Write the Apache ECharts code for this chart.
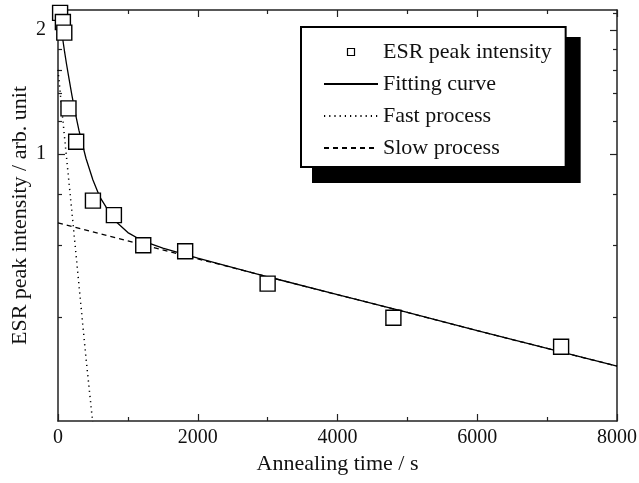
<!DOCTYPE html>
<html>
<head>
<meta charset="utf-8">
<script src="https://cdn.jsdelivr.net/npm/echarts@6/dist/echarts.min.js"></script>
<style>html,body{margin:0;padding:0;background:#fff;}#chart{width:639px;height:483px;}</style>
</head>
<body>
<div id="chart"></div>
<script>
// Measured ESR peak intensity
const esrTime = [30, 70, 90, 150, 260, 500, 800, 1220, 1820, 3000, 4800, 7200];
const esrIntensity = [2.20, 2.09, 1.97, 1.29, 1.07, 0.77, 0.71, 0.60, 0.58, 0.484, 0.400, 0.340];
// Fitting curve
const fitTime = [0, 30, 60, 90, 120, 150, 200, 250, 300, 400, 500, 600, 800, 1000, 1200, 1500, 2000, 3000, 4000, 5000, 6000, 7000, 8000];
const fitValue = [2.28, 2.10, 1.94, 1.79, 1.66, 1.55, 1.385, 1.25, 1.14, 0.976, 0.864, 0.785, 0.692, 0.644, 0.616, 0.590, 0.558, 0.503, 0.455, 0.412, 0.372, 0.337, 0.305];
// Fast process
const fastTime = [0, 100, 200, 300, 400, 500];
const fastValue = [1.60, 1.07, 0.72, 0.48, 0.32, 0.22];
// Slow process
const slowTime = [0, 1000, 2000, 3000, 4000, 5000, 6000, 7000, 8000];
const slowValue = [0.680, 0.615, 0.556, 0.503, 0.455, 0.412, 0.372, 0.337, 0.305];
// Axis ticks
const xTickLabels = [0, 2000, 4000, 6000, 8000];
const yMajorTicks = [1, 2];
const yMinorTicks = [0.4, 0.6, 0.8, 1.2, 1.4, 1.6, 1.8, 2.2];
const seriesNames = ['ESR peak intensity', 'Fitting curve', 'Fast process', 'Slow process'];

const zip = (a, b) => a.map((v, i) => [v, b[i]]);
const FONT = 'Liberation Serif';
const INK = '#111';
const YMIN = 0.2245, YMAX = 2.236;
const axisLine = { show: true, lineStyle: { color: '#222', width: 1.5 } };

function yAx(pos, ticks, len, showLine, labels) {
  return {
    type: 'log', logBase: 10, min: YMIN, max: YMAX, position: pos,
    axisLine: showLine ? axisLine : { show: false },
    axisTick: { show: true, inside: true, length: len, customValues: ticks, lineStyle: { color: '#222', width: 1.2 } },
    axisLabel: labels ? { show: true, customValues: labels, margin: 12, fontFamily: FONT, fontSize: 20, color: INK, formatter: v => String(Math.round(v)) } : { show: false },
    splitLine: { show: false }, minorTick: { show: false },
    name: (pos === 'left' && labels) ? 'ESR peak intensity / arb. unit' : '',
    nameLocation: 'middle', nameGap: 27, nameMoveOverlap: false,
    nameTextStyle: { fontFamily: FONT, fontSize: 22, color: INK }
  };
}
function xAx(pos, labels) {
  return {
    type: 'value', min: 0, max: 8000, interval: 2000, position: pos,
    axisLine: axisLine,
    axisTick: { show: true, inside: true, length: 7, lineStyle: { color: '#222', width: 1.2 } },
    minorTick: { show: true, splitNumber: 2, length: 4, lineStyle: { color: '#222', width: 1.2 } },
    axisLabel: labels ? { show: true, margin: 7, fontFamily: FONT, fontSize: 20, color: INK, formatter: v => xTickLabels.indexOf(v) >= 0 ? String(v) : '' } : { show: false },
    splitLine: { show: false }, minorSplitLine: { show: false },
    name: labels ? 'Annealing time / s' : '',
    nameLocation: 'middle', nameGap: 30,
    nameTextStyle: { fontFamily: FONT, fontSize: 22, color: INK }
  };
}

function legendData(shadow) {
  const sq = shadow ? { color: '#000', borderColor: '#000' } : { color: '#fff', borderColor: '#000', borderWidth: 1.2 };
  const hideDot = { opacity: 0 };
  return [
    { name: seriesNames[0], icon: 'path://M0,0L10,0L10,10L0,10Z', itemStyle: sq },
    { name: seriesNames[1], itemStyle: hideDot },
    { name: seriesNames[2], itemStyle: hideDot },
    { name: seriesNames[3], itemStyle: hideDot }
  ];
}
function legend(shadow) {
  return {
    orient: 'vertical',
    left: shadow ? 313 : 301, top: shadow ? 38 : 27,
    padding: shadow ? [17, 16, 9, 22] : [14, 14, 8, 22], itemGap: 10,
    itemWidth: 54, itemHeight: 7,
    symbolKeepAspect: true,
    z: shadow ? 3 : 4,
    backgroundColor: shadow ? '#000' : '#fff', borderColor: '#000', borderWidth: 2,
    textStyle: { fontFamily: FONT, fontSize: 22, color: shadow ? '#000' : INK },
    lineStyle: shadow ? { color: '#000' } : {},
    selectedMode: false,
    data: legendData(shadow)
  };
}

const chart = echarts.init(document.getElementById('chart'), null, { renderer: 'canvas' });
chart.setOption({
  animation: false,
  backgroundColor: '#fff',
  grid: { left: 58, right: 22, top: 10, bottom: 62, containLabel: false, outerBoundsMode: 'none' },
  xAxis: [xAx('bottom', true), xAx('top', false)],
  yAxis: [
    yAx('left', yMajorTicks, 7, true, yMajorTicks),
    yAx('left', yMinorTicks, 4, false, null),
    yAx('right', yMajorTicks, 7, true, null),
    yAx('right', yMinorTicks, 4, false, null)
  ],
  legend: [legend(true), legend(false)],
  series: [
    { name: seriesNames[1], type: 'line', xAxisIndex: 0, yAxisIndex: 0, data: zip(fitTime, fitValue), symbol: 'none', smooth: false,
      lineStyle: { color: '#000', width: 1.3, type: 'solid' }, itemStyle: { color: '#000' }, z: 3 },
    { name: seriesNames[2], type: 'line', xAxisIndex: 0, yAxisIndex: 0, data: zip(fastTime, fastValue), symbol: 'none',
      lineStyle: { color: '#000', width: 1.5, type: [1.2, 4] }, itemStyle: { color: '#000' }, z: 2 },
    { name: seriesNames[3], type: 'line', xAxisIndex: 0, yAxisIndex: 0, data: zip(slowTime, slowValue), symbol: 'none',
      lineStyle: { color: '#000', width: 1.3, type: [5, 4] }, itemStyle: { color: '#000' }, z: 2 },
    { name: seriesNames[0], type: 'scatter', xAxisIndex: 0, yAxisIndex: 0, data: zip(esrTime, esrIntensity), symbol: 'rect', symbolSize: 15,
      itemStyle: { color: '#fff', borderColor: '#000', borderWidth: 1.4, opacity: 1 }, z: 5 }
  ]
});
</script>
</body>
</html>
